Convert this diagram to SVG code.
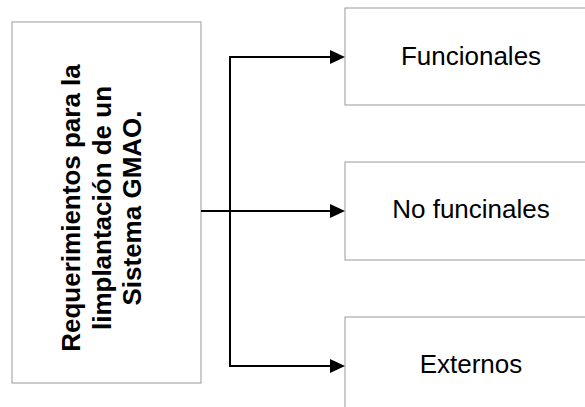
<svg xmlns="http://www.w3.org/2000/svg" width="585" height="407" viewBox="0 0 585 407">
<defs>
<style>
.box{fill:#fff;stroke:#999;stroke-width:1}
.lbl{font-family:"Liberation Sans",Arial,sans-serif;font-size:26px;fill:#000;text-anchor:middle}
.main{font-family:"Liberation Sans",Arial,sans-serif;font-size:26px;font-weight:bold;fill:#000;text-anchor:middle}
.con{fill:none;stroke:#000;stroke-width:2}
</style>
</defs>
<rect width="585" height="407" fill="#fff"/>
<g id="n-main">
<rect class="box" x="12" y="22" width="189" height="361"/>
<text class="main" transform="translate(0,208) rotate(-90)"><tspan x="0" y="80">Requerimientos para la</tspan><tspan x="0" y="110.5">limplantación de un</tspan><tspan x="0" y="141">Sistema GMAO.</tspan></text>
</g>
<g id="n-func">
<rect class="box" x="345" y="8" width="250" height="97"/>
<text class="lbl" x="471" y="65">Funcionales</text>
</g>
<g id="n-nofunc">
<rect class="box" x="345" y="162" width="250" height="98"/>
<text class="lbl" x="471" y="218">No funcinales</text>
</g>
<g id="n-ext">
<rect class="box" x="345" y="317" width="250" height="100"/>
<text class="lbl" x="471" y="373">Externos</text>
</g>
<g id="connectors">
<path class="con" d="M201,211 L330,211"/>
<path class="con" d="M330,57 L230,57 L230,366 L330,366"/>
<path d="M330,204 L345,211 L330,218 z" fill="#000"/>
<path d="M330,50 L345,57 L330,64 z" fill="#000"/>
<path d="M330,359 L345,366 L330,373 z" fill="#000"/>
</g>
</svg>
